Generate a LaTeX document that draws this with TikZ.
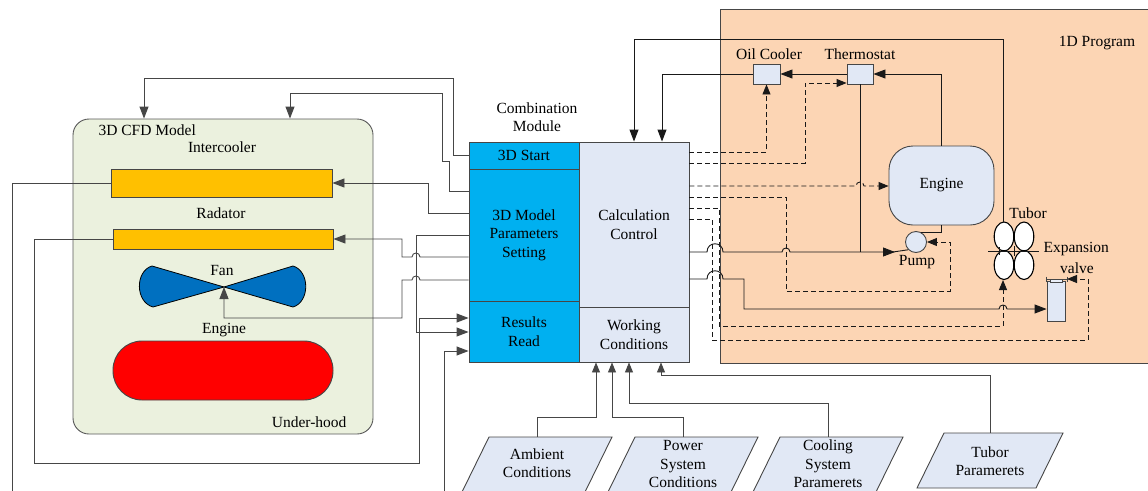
\documentclass[tikz,border=0pt]{standalone}
\usepackage{fontspec}
\setmainfont{Liberation Serif}
\usetikzlibrary{arrows.meta}
\definecolor{cfdgreen}{RGB}{235,241,222}
\definecolor{gold}{RGB}{255,192,0}
\definecolor{fanblue}{RGB}{0,112,192}
\definecolor{modblue}{RGB}{0,176,240}
\definecolor{lightbox}{RGB}{225,232,245}
\definecolor{peach}{RGB}{252,213,180}
\definecolor{linegray}{RGB}{70,70,70}
\definecolor{linedark}{RGB}{25,25,25}
\begin{document}
\begin{tikzpicture}[x=1pt,y=-1pt,
  font=\fontsize{15.5}{18.5}\selectfont,
  conn/.style={draw=linegray,line width=0.9pt},
  connd/.style={draw=linedark,line width=0.9pt},
  arr/.style={-{Triangle[length=12pt,width=9pt]}},
  arrs/.style={-{Triangle[length=10pt,width=8pt]}},
  dashline/.style={dash pattern=on 5pt off 3pt},
  boxn/.style={draw=linegray,rectangle,inner sep=0pt,line width=0.9pt},
  para/.style={draw=linegray,fill=lightbox,line width=0.9pt}]
\useasboundingbox (0,0) rectangle (1148,490);
\clip (0,0) rectangle (1148,490);

% ---------- 1D program background ----------
\node[boxn,fill=peach,minimum width=450pt,minimum height=354pt] (prog) at (945,186) {};
\node (lblprog) at (1097,43) {1D Program};

% ---------- 3D CFD model ----------
\node[boxn,draw=gray!70!black,fill=cfdgreen,rounded corners=16pt,minimum width=300pt,minimum height=315pt] (cfd) at (223,276.5) {};
\node[anchor=west] (lblcfd) at (95,130) {3D CFD Model};
\node (lblic) at (222,147) {Intercooler};
\node[boxn,fill=gold,minimum width=221pt,minimum height=28pt] (ic) at (221.5,183) {};
\node (lblrad) at (221,213) {Radator};
\node[boxn,fill=gold,minimum width=220pt,minimum height=20pt] (rad) at (223,239) {};
\node (lblfan) at (222,270) {Fan};
\coordinate (fanc) at (224,287);
\filldraw[fill=fanblue,draw=black,line width=0.8pt] (fanc) -- (152,266) .. controls (135,271) and (135,302) .. (153,307) -- cycle;
\filldraw[fill=fanblue,draw=black,line width=0.8pt] (fanc) -- (293,266) .. controls (310,271) and (310,302) .. (293,307) -- cycle;
\node (lbleng) at (224,330) {Engine};
\node[boxn,fill=red,rounded corners=29pt,minimum width=220pt,minimum height=59pt] (eng3d) at (223,370.5) {};
\node[anchor=east] (lblhood) at (350,422) {Under-hood};

% ---------- Combination module ----------
\node[align=center] (lblcomb) at (537,117) {Combination\\Module};
\node[boxn,fill=modblue,minimum width=110pt,minimum height=27pt] (start) at (524,155.5) {3D Start};
\node[boxn,fill=modblue,minimum width=110pt,minimum height=132pt,align=center] (param) at (524,235) {3D Model\\Parameters\\Setting};
\node[boxn,fill=modblue,minimum width=110pt,minimum height=61pt,align=center] (results) at (524,331.5) {Results\\Read};
\node[boxn,fill=lightbox,minimum width=110pt,minimum height=165pt,align=center] (calc) at (634,224.5) {Calculation\\Control};
\node[boxn,fill=lightbox,minimum width=110pt,minimum height=55pt,align=center] (work) at (634,334.5) {Working\\Conditions};

% ---------- 1D components ----------
\node (lbloil) at (769,54) {Oil Cooler};
\node (lblthermo) at (860,54) {Thermostat};
\node[boxn,fill=lightbox,minimum width=27pt,minimum height=20pt] (oil) at (766.5,74) {};
\node[boxn,fill=lightbox,minimum width=26pt,minimum height=20pt] (thermo) at (860,74) {};
\node[boxn,fill=lightbox,rounded corners=24pt,minimum width=105pt,minimum height=79pt] (eng1d) at (941.5,185.5) {Engine};
\node[boxn,circle,fill=lightbox,minimum size=21pt] (pump) at (916,242) {};
\node (lblpump) at (917,262) {Pump};
% Tubor
\foreach \cx/\cy in {1004/236.5,1024/236.5,1004/265,1024/265}
  \draw[draw=black,fill=white,line width=1.1pt] (\cx,\cy) ellipse [x radius=9.8, y radius=14.5];
\draw[linedark,line width=0.9pt] (988,251) -- (1039,251);
\draw[linedark,line width=0.8pt] (1014,246) -- (1014,256) (999,247) -- (999,255);
\coordinate (tubtop) at (1003,222);
\coordinate (tubbot) at (1003,280);
\node (lbltub) at (1028,213) {Tubor};
\node[anchor=west] (lblexp) at (1040,249) {Expansion};
\node (lblvalve) at (1077,268) {valve};
% Expansion valve
\node[boxn,fill=lightbox,minimum width=18pt,minimum height=40pt] (valve) at (1056,301) {};
\draw[linegray,line width=0.8pt] (1046,279) -- (1067,279);
\draw[linegray,line width=0.6pt] (1046,276.5) -- (1046,281.5) (1067,276.5) -- (1067,281.5);
\draw[linegray,fill=lightbox!70!white,line width=0.5pt] (1050,279) rectangle (1062,282);
\coordinate (valvecap) at (1067,279);

% ---------- input parallelograms ----------
\draw[para] (489,437) -- (612,437) -- (585,492) -- (462,492) -- cycle;
\node[align=center] (amb) at (537,463) {Ambient\\Conditions};
\draw[para] (635,437) -- (758,437) -- (731,492) -- (608,492) -- cycle;
\node[align=center] (pow) at (683,464) {Power\\System\\Conditions};
\draw[para] (780,437) -- (903,437) -- (876,492) -- (753,492) -- cycle;
\node[align=center] (cool) at (828,464) {Cooling\\System\\Paramerets};
\draw[para] (944,433) -- (1063,433) -- (1036,488) -- (917,488) -- cycle;
\node[align=center] (tubp) at (990,461) {Tubor\\Paramerets};
\coordinate (ambtop) at (537,437);
\coordinate (powtop) at (683,437);
\coordinate (cooltop) at (828,437);
\coordinate (tubptop) at (990,433);

% ---------- connectors: inputs ----------
\draw[conn,arrs] (ambtop) -- (537,417) -| (596,0 |- work.south);
\draw[conn,arrs] (powtop) -- (683,417) -| (612,0 |- work.south);
\draw[conn,arrs] (cooltop) -- (828,403) -| (629,0 |- work.south);
\draw[conn,arrs] (tubptop) -- (990,375) -| (661,0 |- work.south);

% ---------- connectors: left side ----------
\draw[conn,arr] (start.west) -- (453,155.5) |- (144,78) -- (144,0 |- cfd.north);
\draw[conn,arr] (param.west |- 0,191) -- (449,191) -- (449,161) -- (442,161) |- (290,93) -- (290,0 |- cfd.north);
\draw[conn,arr] (param.west |- 0,213) -- (428,213) |- (ic.east);
\draw[conn,arr] (param.west |- 0,235) -- (416,235) -- (416,332) -- (results.west |- 0,332);
\draw[conn,arr] (param.west |- 0,257) -- (420,257) .. controls (420,251.7) and (412,251.7) .. (412,257) -- (402,257) |- (rad.east);
\draw[conn,arr] (param.west |- 0,280) -- (420,280) .. controls (420,274.7) and (412,274.7) .. (412,280) -- (402,280) -- (402,318) -| (fanc);
\draw[conn,arr] (rad.west) -| (34,463) -| (419,318) -- (results.west |- 0,318);
\draw[conn,arr] (ic.west) -| (12,520) -| (444,351) -- (results.west |- 0,351);

% ---------- connectors: 1D side, solid ----------
\draw[connd,arr] (thermo.west) -- (oil.east);
\draw[connd,arr] (eng1d.north) |- (thermo.east);
\draw[connd,arr] (oil.west) -| (662,0 |- calc.north);
\draw[connd,arr] (tubtop) |- (634,39) -- (calc.north);
\draw[connd] (thermo.south) -- (thermo.south |- 0,252);
\draw[connd] (eng1d.south) |- (pump.60);
\draw[connd,arr] (calc.east |- 0,252) -- (707,252) .. controls (707,241) and (723,241) .. (723,252) -- (782,252) .. controls (782,246.7) and (790,246.7) .. (790,252) -- (895,252);
\draw[connd] (893,252) -- (pump.south west);
\draw[connd,arr] (calc.east |- 0,279) -- (707,279) .. controls (707,268) and (723,268) .. (723,279) -- (744,279) -- (744,309) -- (999,309) .. controls (999,303.7) and (1007,303.7) .. (1007,309) -- (valve.west |- 0,309);

% ---------- connectors: 1D side, dashed ----------
\draw[connd,dashline,arrs] (calc.east |- 0,152) -| (oil.south);
\draw[connd,dashline,arrs] (calc.east |- 0,163) -| (805,83) -- (thermo.west |- 0,83);
\draw[connd,dashline,arrs] (calc.east |- 0,186) -- (856,186) .. controls (856,180.7) and (864,180.7) .. (864,186) -- (eng1d.west |- 0,186);
\draw[connd,dashline,arrs] (calc.east |- 0,197) -| (786,291) -| (950,242) -- (pump.east);
\draw[connd,dashline,arrs] (calc.east |- 0,208) -| (719,326) -| (tubbot);
\draw[connd,dashline,arrs] (calc.east |- 0,219) -| (712,340) -| (1088,279) -- (valvecap);
\end{tikzpicture}
\end{document}
